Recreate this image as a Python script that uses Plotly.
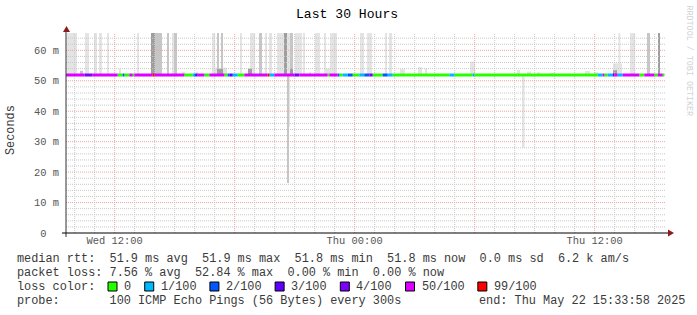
import datetime as dt
import plotly.graph_objects as go

# ---------------- data ----------------
T_END = dt.datetime(2025, 5, 22, 15, 33, 58)
HOURS = 30
T_START = T_END - dt.timedelta(hours=HOURS)
STEP_MIN = 5

loss_levels = [0, 1, 2, 3, 4, 50, 99]
loss_labels = ["0", "1/100", "2/100", "3/100", "4/100", "50/100", "99/100"]
loss_colors = ["#26ff00", "#00b8ff", "#0059ff", "#5e00ff", "#7e00ff", "#dd00ff", "#ff0000"]

# median rtt line: runs of 5-minute steps with their loss level
run_loss = [50, 4, 50, 0, 2, 0, 50, 0, 50, 99,
            50, 0, 1, 2, 3, 50, 0, 50, 0, 2,
            3, 1, 0, 50, 99, 1, 50, 4, 50, 0,
            50, 2, 0, 1, 2, 0, 1, 2, 4, 0,
            2, 1, 0, 1, 0, 1, 0, 1, 50, 0,
            1, 3, 50, 1, 50, 0, 50, 0, 50, 0]
run_steps = [11, 5, 15, 3, 1, 3, 2, 1, 11, 1,
             18, 5, 1, 1, 1, 4, 3, 9, 2, 1,
             2, 3, 4, 14, 1, 3, 12, 3, 17, 1,
             5, 1, 2, 3, 3, 4, 3, 3, 2, 6,
             3, 3, 34, 3, 11, 1, 74, 3, 1, 2,
             3, 1, 2, 3, 10, 3, 6, 2, 3, 1]
run_median_ms = [51.9] * 60

# smoke (ping spread) blocks: hours after start, ms range, density level
smoke_start_h = [0.05, 0.95, 1.40, 1.65, 2.05, 3.55, 4.25, 4.45, 5.05, 5.30,
                 5.40, 7.30, 7.55, 7.75, 8.70, 9.20, 9.65, 9.95, 10.15, 10.55,
                 10.90, 11.05, 11.20, 11.45, 11.85, 12.45, 12.90, 13.20, 14.70, 15.05,
                 15.95, 16.15, 27.62, 28.20, 29.05, 29.60,
                 11.05, 11.15, 22.80,
                 0.70, 2.65, 5.80, 6.50, 7.45, 7.55, 9.10, 11.20, 12.15, 13.00,
                 16.70, 17.60, 17.95, 20.20, 22.55, 23.05, 23.55, 24.20, 25.95, 26.40,
                 27.35, 27.35]
smoke_end_h = [0.55, 1.15, 1.55, 1.80, 2.15, 3.65, 4.45, 4.80, 5.15, 5.40,
               5.55, 7.45, 7.65, 7.85, 8.80, 9.45, 9.80, 10.05, 10.30, 10.90,
               11.05, 11.20, 11.35, 11.80, 11.95, 12.70, 13.00, 13.55, 14.90, 15.30,
               16.05, 16.30, 27.72, 28.45, 29.20, 29.70,
               11.15, 11.20, 22.93,
               0.85, 2.75, 5.95, 6.60, 8.05, 7.85, 9.30, 11.35, 12.25, 13.20,
               16.95, 17.80, 18.05, 20.45, 22.70, 23.25, 23.70, 24.45, 26.20, 26.60,
               27.80, 27.55]
smoke_lo_ms = [52] * 36 + [16.4, 35.0, 28.0] + [52] * 22
smoke_hi_ms = [70] * 36 + [52, 52, 52] + [
    53.3, 54.0, 53.0, 53.0, 54.3, 53.9, 54.0, 54.0, 53.0, 54.0,
    53.8, 54.5, 54.0, 56.3, 53.5, 53.0, 52.8, 52.6, 53.2, 52.8,
    55.7, 53.5]
smoke_density = [1, 1, 1, 1, 1, 1, 3, 2, 2, 1,
                 2, 1, 2, 2, 1, 1, 2, 1, 1, 1,
                 3, 1, 2, 1, 1, 1, 1, 1, 1, 1,
                 1, 1, 1, 1, 2, 3,
                 2, 1, 1,
                 2, 1, 1, 1, 1, 3, 3, 3, 1, 1,
                 1, 1, 1, 1, 1, 1, 1, 1, 1, 1,
                 1, 3]

y_max_ms = 65.7
y_tick_vals = [0, 10, 20, 30, 40, 50, 60]
y_tick_text = ["0\u00a0\u00a0", "10 m", "20 m", "30 m", "40 m", "50 m", "60 m"]
x_tick_vals = [dt.datetime(2025, 5, 21, 12), dt.datetime(2025, 5, 22, 0), dt.datetime(2025, 5, 22, 12)]
x_tick_text = ["Wed 12:00", "Thu 00:00", "Thu 12:00"]

rtt_stats = [51.9, 51.9, 51.8, 51.8]
rtt_sd = 0.0
am_s = 6.2
loss_stats = [7.56, 52.84, 0.00, 0.00]
stat_names = ["avg", "max", "min", "now"]
probe_text = "100 ICMP Echo Pings (56 Bytes) every 300s"
end_text = "end: Thu May 22 15:33:58 2025"

# ---------------- styles ----------------
FONT = "Liberation Mono"
SMOKE_COLORS = {1: "#e4e4e4", 2: "#c6c6c6", 3: "#9e9e9e"}
MINOR_GRID = "rgb(200,200,200)"
MAJOR_GRID = "rgb(236,165,165)"
ARROW = "#8c1c1c"
TXT = "#3a3a3a"
W, H = 697, 315
L, R, T, B = 66, 31, 33, 82
PW, PH = W - L - R, H - T - B


def px(x):
    return (x - L) / PW


def py(y):
    return (T + PH - y) / PH


fig = go.Figure()

# smoke
for lvl in (1, 2, 3):
    idx = [i for i, d in enumerate(smoke_density) if d == lvl]
    fig.add_trace(go.Bar(
        x=[T_START + dt.timedelta(hours=(smoke_start_h[i] + smoke_end_h[i]) / 2) for i in idx],
        y=[smoke_hi_ms[i] - smoke_lo_ms[i] for i in idx],
        base=[smoke_lo_ms[i] for i in idx],
        width=[(smoke_end_h[i] - smoke_start_h[i]) * 3600 * 1000 for i in idx],
        marker=dict(color=SMOKE_COLORS[lvl], line=dict(width=0)),
        hoverinfo="skip", showlegend=False))

# grid
minor_x, minor_y, major_x, major_y = [], [], [], []
h = T_START.replace(minute=0, second=0) + dt.timedelta(hours=1)
while h <= T_END:
    if h.hour % 6 == 0:
        major_x += [h, h, None]; major_y += [0, y_max_ms, None]
    else:
        minor_x += [h, h, None]; minor_y += [0, y_max_ms, None]
    h += dt.timedelta(hours=1)
for v in range(2, 66, 2):
    if v % 10 == 0:
        major_x += [T_START, T_END, None]; major_y += [v, v, None]
    else:
        minor_x += [T_START, T_END, None]; minor_y += [v, v, None]
for xs, ys, col in ((minor_x, minor_y, MINOR_GRID), (major_x, major_y, MAJOR_GRID)):
    fig.add_trace(go.Scatter(x=xs, y=ys, mode="lines",
                             line=dict(color=col, width=1, dash="1px,1px"),
                             hoverinfo="skip", showlegend=False))

# median line coloured by loss
segs = {lvl: ([], []) for lvl in loss_levels}
t = 0
for code, n, m in zip(run_loss, run_steps, run_median_ms):
    x0 = T_START + dt.timedelta(minutes=STEP_MIN * t)
    x1 = T_START + dt.timedelta(minutes=STEP_MIN * (t + n))
    segs[code][0].extend([x0, x1, None])
    segs[code][1].extend([m, m, None])
    t += n
for lvl, col in zip(loss_levels, loss_colors):
    xs, ys = segs[lvl]
    if xs:
        fig.add_trace(go.Scatter(x=xs, y=ys, mode="lines", line=dict(color=col, width=3),
                                 hoverinfo="skip", showlegend=False))

shapes = [
    dict(type="line", xref="paper", yref="paper", x0=px(66), x1=px(66), y0=py(237), y1=py(31),
         line=dict(color="#333", width=1), layer="above"),
    dict(type="line", xref="paper", yref="paper", x0=px(62), x1=px(669), y0=py(233), y1=py(233),
         line=dict(color="#000", width=1), layer="above"),
    dict(type="path", xref="paper", yref="paper", layer="above",
         path=f"M {px(66.5)},{py(26)} L {px(63)},{py(32)} L {px(70)},{py(32)} Z",
         fillcolor=ARROW, line=dict(width=0)),
    dict(type="path", xref="paper", yref="paper", layer="above",
         path=f"M {px(674)},{py(233)} L {px(668)},{py(229.5)} L {px(668)},{py(236.5)} Z",
         fillcolor=ARROW, line=dict(width=0)),
]

annotations = []


def text(x, y, s, size=11.87, color=TXT, anchor="left", angle=0):
    annotations.append(dict(xref="paper", yref="paper", x=px(x), y=py(y), text=s.replace(" ", "\u00a0"),
                            showarrow=False, xanchor=anchor, yanchor="middle", borderpad=0,
                            textangle=angle, font=dict(family=FONT, size=size, color=color)))


text(347, 14, "Last 30 Hours", size=13.1, color="#000", anchor="center")
text(11, 130, "Seconds", color=TXT, anchor="center", angle=-90)
text(688, 60.5, "RRDTOOL / TOBI OETIKER", size=8.4, color="#d2d2d2", anchor="center", angle=90)

row1 = "median rtt:  " + "  ".join(f"{v:.1f} ms {n}" for v, n in zip(rtt_stats, stat_names)) \
       + f"  {rtt_sd:.1f} ms sd  {am_s:.1f} k am/s"
row2 = "packet loss: " + "  ".join(f"{v:.2f} % {n}" for v, n in zip(loss_stats, stat_names))
text(16, 259, row1)
text(16, 273, row2)
text(16, 286.5, "loss color:")
text(16, 301, "probe:       " + probe_text)
text(478, 301, end_text)

CH = 7.12
bx = 108
for lab, col in zip(loss_labels, loss_colors):
    shapes.append(dict(type="rect", xref="paper", yref="paper", x0=px(bx), x1=px(bx + 9),
                       y0=py(291), y1=py(282), fillcolor=col, line=dict(color="#000", width=1),
                       layer="above"))
    tx = bx + 15
    text(tx, 286.5, lab)
    bx = tx + len(lab) * CH + 14.6

fig.update_layout(
    width=W, height=H, margin=dict(l=L, r=R, t=T, b=B),
    paper_bgcolor="white", plot_bgcolor="white", barmode="overlay",
    showlegend=False, shapes=shapes, annotations=annotations,
    xaxis=dict(type="date", range=[T_START, T_END], showgrid=False, zeroline=False,
               tickvals=x_tick_vals, ticktext=x_tick_text, ticks="",
               tickfont=dict(family=FONT, size=10.4, color="#555"), fixedrange=True),
    yaxis=dict(range=[0, y_max_ms], showgrid=False, zeroline=False,
               tickvals=y_tick_vals, ticktext=y_tick_text, ticks="", ticklabelstandoff=6,
               tickfont=dict(family=FONT, size=10.4, color="#555"), fixedrange=True),
)

fig.write_html("out.html")
